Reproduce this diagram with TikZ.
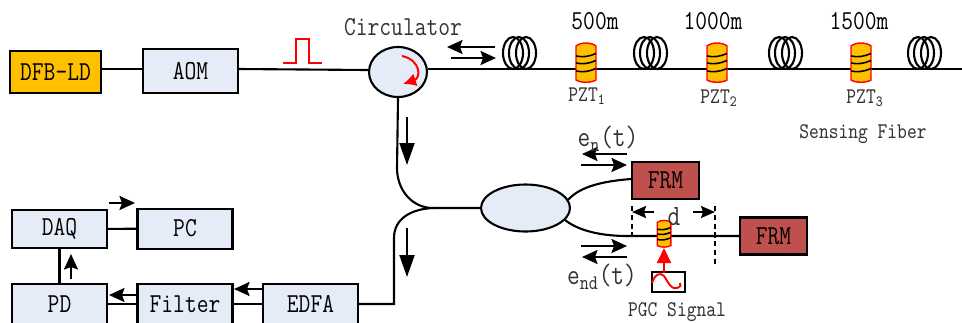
\documentclass[tikz,border=0pt]{standalone}
\usetikzlibrary{arrows.meta}
\usetikzlibrary{shapes.geometric}
\definecolor{boxblue}{HTML}{E6ECF7}
\definecolor{laser}{HTML}{FFC000}
\definecolor{frmred}{HTML}{C0504D}
\newcommand{\tall}[1]{\scalebox{1}[1.2]{#1}}
\tikzset{
  unit/.style={draw,line width=1.2pt,fill=boxblue,minimum width=#1,minimum height=.8cm,inner sep=0pt,font=\fontsize{13}{14}\ttfamily},
  unit/.default=1.9cm,
  frm/.style={draw,line width=1.2pt,fill=frmred,minimum width=1.34cm,minimum height=.74cm,inner sep=0pt,font=\fontsize{13}{14}\ttfamily},
  lbl/.style={inner sep=0pt,font=\fontsize{13}{14}\ttfamily},
  smalllbl/.style={inner sep=0pt,text=black!80,font=\fontsize{10.6}{12}\ttfamily},
  siglbl/.style={inner sep=0pt,text=black!80,font=\fontsize{14}{16}\ttfamily},
  fiber/.style={line width=1.2pt},
  flow/.style={line width=1.2pt,-{Stealth[length=3.1mm,width=2.8mm,inset=.5mm]}},
  bigflow/.style={line width=1.2pt,-{Stealth[length=4.4mm,width=3mm,inset=0pt]}},
  pics/coil/.style={code={
    \foreach \dx in {10,16,23}
      \draw[line width=1.2pt] (\dx,0) ellipse (10 and 16);
  }},
  pics/pztcell/.style={code={
    \draw[red,fill=laser,line width=.8pt] (-10,-17) .. controls (-5,-21) and (5,-21) .. (10,-17) -- (10,17)
      .. controls (5,20) and (-5,20) .. (-10,17) -- cycle;
    \foreach \dy in {-7,0,8}
      \draw[line width=.9pt] (-10,\dy) .. controls (-3,\dy+1.5) and (3,\dy+.5) .. (10,\dy-2.5);
  }}
}
\begin{document}
\begin{tikzpicture}[x=.02cm,y=-.02cm]
\path[use as bounding box,clip] (0,0) rectangle (962,322);
% source arm
\node[unit=1.82cm,fill=laser,minimum height=.84cm] (dfb) at (55.5,72) {\tall{DFB-LD}};
\node[unit,minimum height=.88cm] (aom) at (190.5,71) {\tall{AOM}};
\node[ellipse,draw,line width=1.2pt,fill=boxblue,minimum width=1.16cm,minimum height=1cm,inner sep=0pt] (circ) at (398,72) {};
\node[lbl,text=black!80] (circlabel) at (403,27) {\tall{Circulator}};
\coordinate (fiberend) at (962,69);
\draw[fiber] (dfb.east |- 0,69) -- (aom.west |- 0,69);
\draw[fiber] (aom.east |- 0,69) -- (circ.west |- 0,70);
\draw[red,line width=1.1pt] (283,63) -- (296,63) -- (296,39) -- (309,39) -- (309,63) -- (322,63);
\draw[red,line width=1.1pt,-{Latex[length=2.6mm,width=2.6mm]}] (402,56) .. controls (421,60) and (421,78) .. (403,84);
\draw[flow] (495,47) -- (447,47);
\draw[flow] (451,58) -- (496,58);
% sensing fiber
\draw[fiber] (circ.east |- 0,69) -- (fiberend);
\foreach \x in {503,634,769,908}
  \pic at (\x,53) {coil};
\foreach \x in {586,717,861}
  \pic at (\x,63) {pztcell};
\node[lbl] (dist1) at (595,21) {\tall{500m}};
\node[lbl] (dist2) at (713,21) {\tall{1000m}};
\node[lbl] (dist3) at (859,21) {\tall{1500m}};
\node[smalllbl] (pzt1) at (587,96) {\tall{PZT\textsubscript{1}}};
\node[smalllbl] (pzt2) at (719,98) {\tall{PZT\textsubscript{2}}};
\node[smalllbl] (pzt3) at (865,98) {\tall{PZT\textsubscript{3}}};
\node[smalllbl] (sensing) at (863,134) {\tall{Sensing Fiber}};
% coupler
\node[ellipse,draw,line width=1.2pt,fill=boxblue,minimum width=1.78cm,minimum height=.94cm,inner sep=0pt] (coupler) at (525.5,208) {};
\coordinate (splice) at (433,208);
\node[unit,minimum height=.8cm] (edfa) at (310.5,304) {\tall{EDFA}};
\draw[fiber] (circ.south) -- (397,168) .. controls (397,190) and (412,208) .. (splice) -- (coupler.west);
\draw[fiber] (splice) .. controls (412,209) and (394,218) .. (394,238) -- (394,304) -- (edfa.east);
\draw[bigflow] (407,117) -- (407,165);
\draw[bigflow] (407,228) -- (407,277);
% reference arms
\node[frm] (frm1) at (665.5,180.5) {\tall{FRM}};
\node[frm] (frm2) at (773.5,236) {\tall{FRM}};
\coordinate (arm) at (627,236);
\draw[fiber] (568,200) .. controls (580,186) and (605,181) .. (frm1.west |- 0,179);
\draw[fiber] (565,220) .. controls (580,232) and (605,236) .. (arm) -- (frm2.west);
\draw[line width=1.1pt,densely dashed] (632,206) -- (632,236);
\draw[line width=1.1pt,densely dashed] (715,206) -- (715,265);
\draw[line width=1.1pt,-{Stealth[length=2.8mm,width=2.4mm,inset=.4mm]}] (654,212) -- (632,212);
\draw[line width=1.1pt,-{Stealth[length=2.8mm,width=2.4mm,inset=.4mm]}] (693,212) -- (715,212);
\pic[scale=.68] at (664,234) {pztcell};
\node[siglbl] (dlabel) at (674,217) {\tall{d}};
\node[draw,line width=1pt,minimum width=.66cm,minimum height=.4cm,inner sep=0pt] (pgcbox) at (668.5,282) {};
\coordinate (pgcup) at (664,273);
\coordinate (pgctip) at (664,248);
\draw[red,line width=1.2pt,-{Stealth[length=3mm,width=2.8mm,inset=0pt]}] (pgcup) -- (pgctip);
\draw[red,line width=1.1pt] (652,283) .. controls (655,274) and (660,272) .. (664,276) .. controls (669,283) and (670,289) .. (677,288) .. controls (680,287) and (682,285) .. (680,283);
\node[smalllbl] (pgclabel) at (677,312) {\tall{PGC Signal}};
\draw[flow] (627,154) -- (582,154);
\draw[flow] (581,165) -- (627,165);
\draw[flow] (581,246) -- (627,246);
\draw[flow] (627,257) -- (582,257);
\node[siglbl] (enlabel) at (608,139) {\tall{e\textsubscript{n}(t)}};
\node[siglbl] (endlabel) at (602,277) {\tall{e\textsubscript{nd}(t)}};
% detection chain
\node[unit,minimum height=.76cm] (daq) at (59.5,229) {\tall{DAQ}};
\node[unit,minimum height=.8cm] (pc) at (185,228.6) {\tall{PC}};
\node[unit] (pd) at (59.5,304) {\tall{PD}};
\node[unit] (filter) at (185,304) {\tall{Filter}};
\draw[fiber] (daq) -- (pc);
\draw[fiber] (daq) -- (pd);
\draw[fiber] (pd) -- (filter);
\draw[fiber] (filter) -- (edfa);
\draw[flow] (109,203) -- (135,203);
\draw[flow] (71,279) -- (71,254);
\draw[flow] (138,295) -- (109,295);
\draw[flow] (262,289) -- (234,289);
\end{tikzpicture}
\end{document}
